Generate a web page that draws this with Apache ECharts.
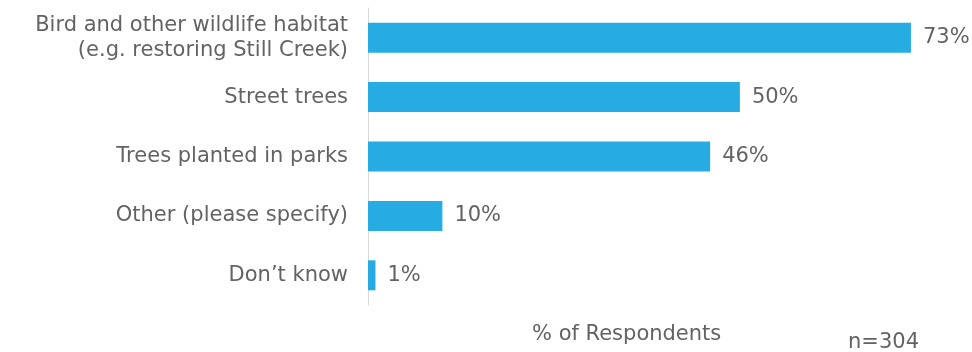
<!DOCTYPE html>
<html><head><meta charset="utf-8">
<script src="https://cdn.jsdelivr.net/npm/echarts@6/dist/echarts.min.js"></script>
<style>html,body{margin:0;padding:0;background:#fff}#c{width:972px;height:352px}</style>
</head><body><div id="c"></div>
<script>
const categories = ["Bird and other wildlife habitat\n(e.g. restoring Still Creek)", "Street trees", "Trees planted in parks", "Other (please specify)", "Don\u2019t know"];
const values = [73, 50, 46, 10, 1];
const axisTitle = "% of Respondents";
const sampleNote = "n=304";

const FONT = "'DejaVu Sans', sans-serif";
const TXT = "#636363";
const chart = echarts.init(document.getElementById('c'));
chart.setOption({
  animation: false,
  grid: {left: 368, right: 9, top: 8, height: 297, containLabel: false},
  xAxis: {type: 'value', min: 0, max: 80, show: false},
  yAxis: {
    type: 'category', inverse: true, data: categories,
    axisLine: {show: true, lineStyle: {color: '#d9d9d9', width: 1}},
    axisTick: {show: false},
    axisLabel: {color: TXT, fontFamily: FONT, fontSize: 21, margin: 20, lineHeight: 25, align: 'right', padding: [2, 0, 0, 0]}
  },
  series: [{
    type: 'bar', data: values, barWidth: 30,
    itemStyle: {color: '#26abe2'},
    label: {show: true, position: 'right', distance: 12, formatter: p => p.value + '%', color: TXT, fontFamily: FONT, fontSize: 21}
  }],
  graphic: [
    {type: 'text', left: 532, top: 324, style: {text: axisTitle, fill: TXT, font: "21px " + FONT}},
    {type: 'text', left: 848, top: 332, style: {text: sampleNote, fill: TXT, font: "21px " + FONT}}
  ]
});
</script></body></html>
